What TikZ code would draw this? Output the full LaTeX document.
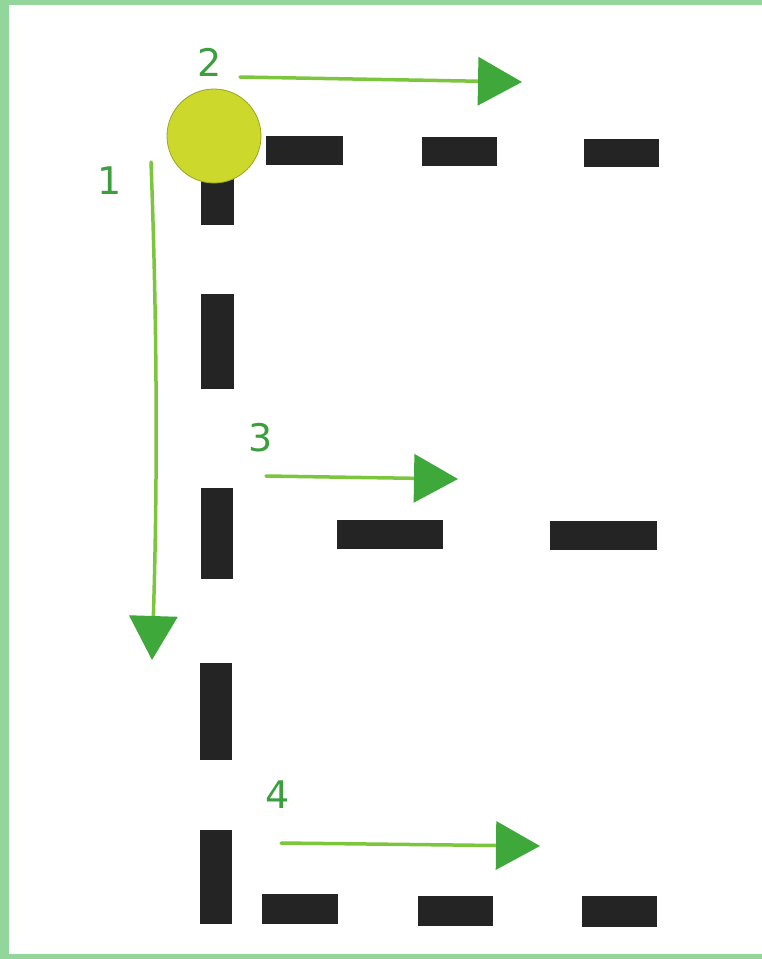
\documentclass[tikz,border=0pt]{standalone}
\usepackage{fontspec}
\setmainfont{DejaVu Sans}
\usetikzlibrary{arrows.meta}
\definecolor{frame}{HTML}{92D69C}
\definecolor{dot}{HTML}{CCD82C}
\definecolor{dotedge}{HTML}{9AA520}
\definecolor{dash}{HTML}{242424}
\definecolor{line}{HTML}{7CC63E}
\definecolor{tipg}{HTML}{3FA83A}
\definecolor{numg}{HTML}{3C9E3C}
\tikzset{
  bar/.style={fill=dash, draw=none},
  movearrow/.style={draw=line, line width=3.5pt, line cap=round,
    -{Triangle[length=44pt,width=48pt,color=tipg,fill=tipg]}},
  num/.style={text=numg, font=\fontsize{38}{38}\selectfont, inner sep=0pt}
}
\begin{document}
\begin{tikzpicture}[x=1pt,y=-1pt]
\useasboundingbox (0,0) rectangle (762,959);
\fill[frame] (0,0) rectangle (762,959);
\fill[white] (9,5) rectangle (762,954);
% vertical bars
\fill[bar] (201,176) rectangle (234,225);
\fill[bar] (201,294) rectangle (234,389);
\fill[bar] (201,488) rectangle (233,579);
\fill[bar] (200,663) rectangle (232,760);
\fill[bar] (200,830) rectangle (232,924);
% top row
\fill[bar] (266,136) rectangle (343,165);
\fill[bar] (422,137) rectangle (497,166);
\fill[bar] (584,139) rectangle (659,167);
% middle row
\fill[bar] (337,520) rectangle (443,549);
\fill[bar] (550,521) rectangle (657,550);
% bottom row
\fill[bar] (262,894) rectangle (338,924);
\fill[bar] (418,896) rectangle (493,926);
\fill[bar] (582,896) rectangle (657,927);
% start dot
\node[circle, fill=dot, draw=dotedge, line width=0.8pt, minimum size=94pt, inner sep=0pt] (start) at (214,136) {};
% arrows
\coordinate (a1s) at (151,162);
\coordinate (a1e) at (152,660);
\coordinate (a2s) at (240,77);
\coordinate (a2e) at (522,82);
\coordinate (a3s) at (266,476);
\coordinate (a3e) at (458,479);
\coordinate (a4s) at (281,843);
\coordinate (a4e) at (540,846);
\draw[movearrow] (a1s) .. controls (158,350) and (157,500) .. (a1e);
\draw[movearrow] (a2s) -- (a2e);
\draw[movearrow] (a3s) -- (a3e);
\draw[movearrow] (a4s) -- (a4e);
% labels
\node[num] (n1) at (110,181) {1};
\node[num] (n2) at (210,62) {2};
\node[num] (n3) at (261,438) {3};
\node[num] (n4) at (278,795) {4};
\end{tikzpicture}
\end{document}
